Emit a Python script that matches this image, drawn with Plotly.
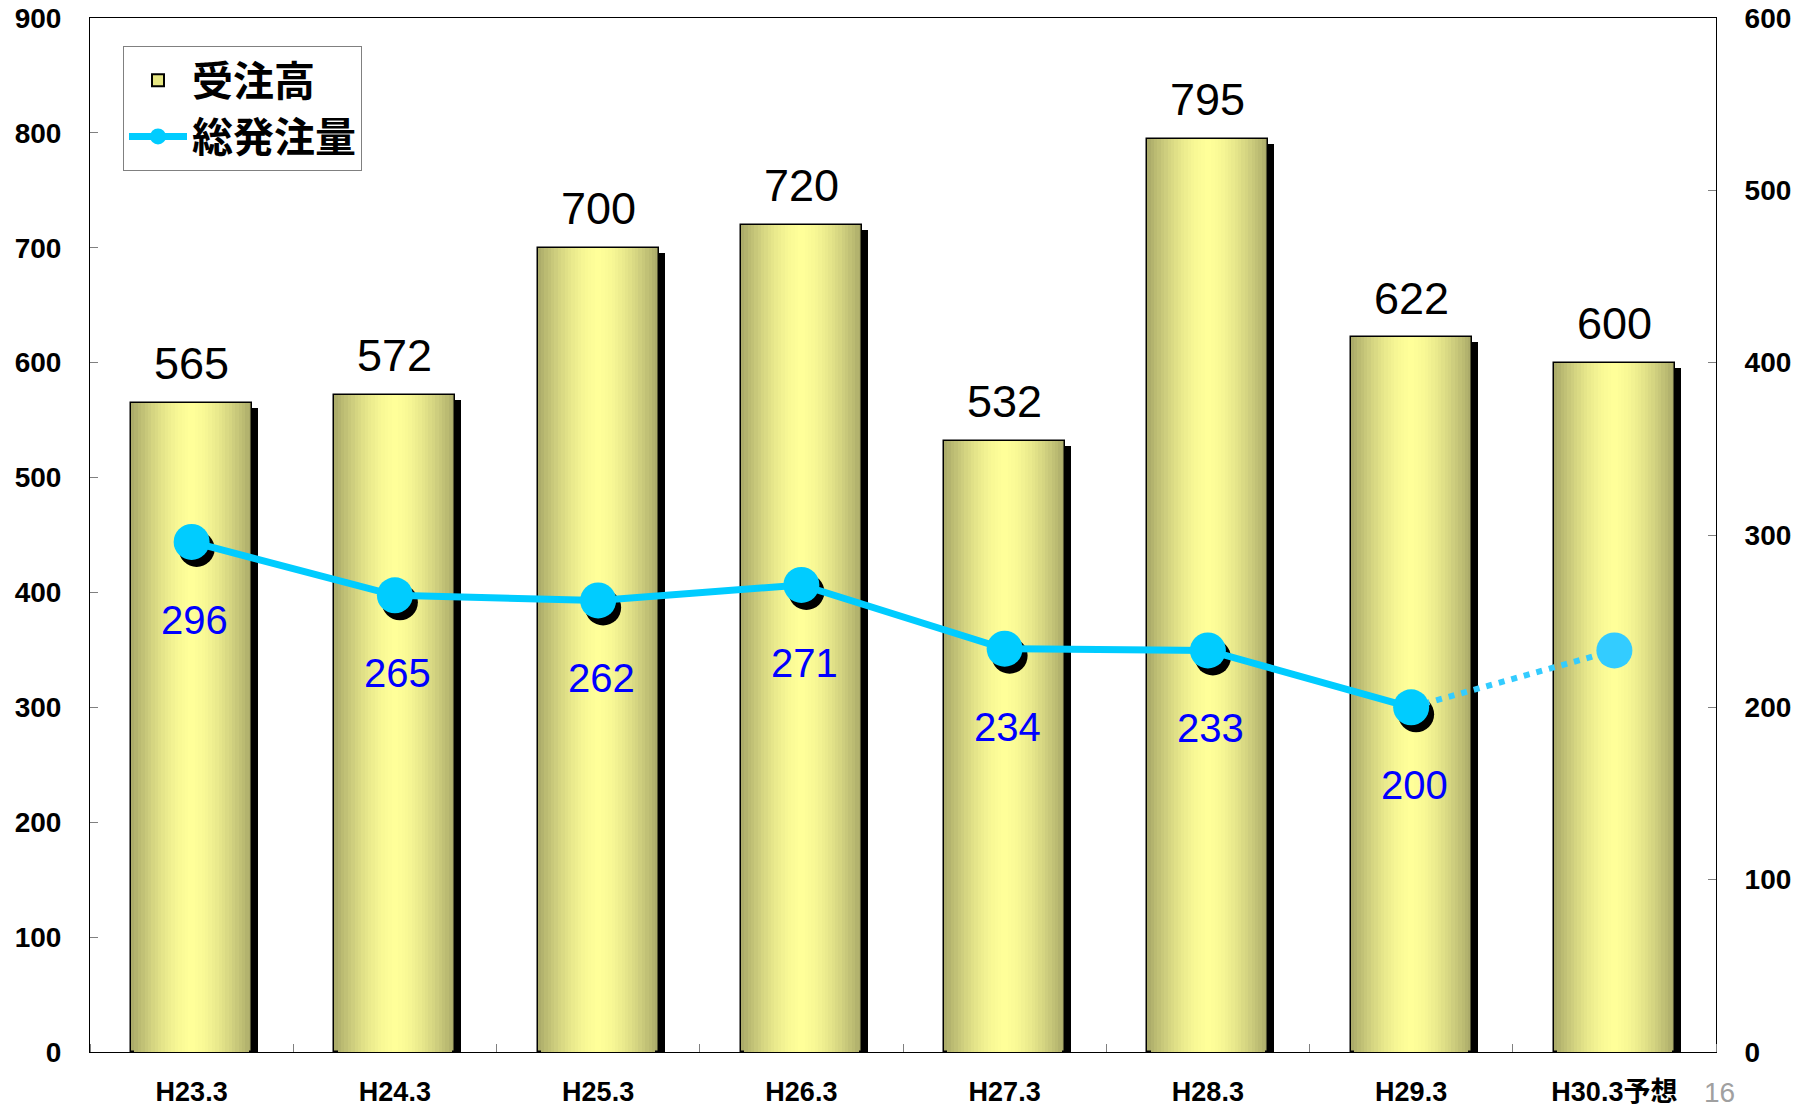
import plotly.graph_objects as go

# ---------------- data ----------------
categories = ["H23.3", "H24.3", "H25.3", "H26.3", "H27.3", "H28.3", "H29.3", "H30.3予想"]
orders = [565, 572, 700, 720, 532, 795, 622, 600]          # 受注高 (left axis)
volume = [296, 265, 262, 271, 234, 233, 200]               # 総発注量 actual (right axis)
volume_forecast = 233                                      # 総発注量 forecast (unlabelled)
left_ticks = [0, 100, 200, 300, 400, 500, 600, 700, 800, 900]
right_ticks = [0, 100, 200, 300, 400, 500, 600]

# ---------------- layout constants ----------------
W_PX, H_PX = 1807, 1107
ML, MR, MT, MB = 90, 91, 18, 55
plot_w = W_PX - ML - MR
plot_h = H_PX - MT - MB
n = len(categories)
xs = list(range(n))
px_x = plot_w / n                 # pixels per category unit
px_yl = plot_h / 900.0            # pixels per left-axis unit
px_yr = plot_h / 600.0            # pixels per right-axis unit

BAR_W = 121 / px_x
FONT_BOLD = "Liberation Sans, Arial, Noto Sans CJK JP"
FONT_CJK = "Noto Sans CJK JP, Liberation Sans"

fig = go.Figure()

# bar shadows
fig.add_trace(go.Bar(
    x=[i + 6 / px_x for i in xs], y=orders, base=-5 / px_yl, width=BAR_W,
    marker=dict(color="black", line=dict(width=0)), showlegend=False, hoverinfo="skip"))

# gradient bars: overlapping layers of decreasing width
edge = (168, 168, 104)
center = (255, 255, 153)
N = 18
for k in range(N):
    t = 1 - (k + 0.5) / N
    f = t ** 1.6
    col = tuple(round(center[j] - (center[j] - edge[j]) * f) for j in range(3))
    fig.add_trace(go.Bar(
        x=xs, y=orders, width=BAR_W * (1 - k / N),
        marker=dict(color="rgb(%d,%d,%d)" % col,
                    line=dict(color="black", width=1.5 if k == 0 else 0)),
        showlegend=False, hoverinfo="skip"))

# legend entry for bars
fig.add_trace(go.Bar(x=[None], y=[None], name="受注高",
                     marker=dict(color="rgb(230,230,130)", line=dict(color="black", width=2))))

# marker shadows (actual points)
fig.add_trace(go.Scatter(
    x=[i + 5 / px_x for i in xs[:len(volume)]], y=[v - 7 / px_yr for v in volume],
    yaxis="y2", mode="markers", marker=dict(size=36, color="black"),
    showlegend=False, hoverinfo="skip"))

# forecast dotted segment
fig.add_trace(go.Scatter(
    x=[xs[len(volume) - 1], xs[-1]], y=[volume[-1], volume_forecast], yaxis="y2",
    mode="lines", line=dict(color="#33ccff", width=6, dash="6px,7px"),
    showlegend=False, hoverinfo="skip"))

# actual line
fig.add_trace(go.Scatter(
    x=xs[:len(volume)], y=volume, yaxis="y2", mode="lines+markers", name="総発注量",
    line=dict(color="#00ccff", width=7), marker=dict(size=36, color="#00ccff")))

# forecast marker
fig.add_trace(go.Scatter(
    x=[xs[-1]], y=[volume_forecast], yaxis="y2", mode="markers",
    marker=dict(size=36, color="#33ccff"), showlegend=False, hoverinfo="skip"))

annotations = []
for i, v in zip(xs, orders):
    annotations.append(dict(x=i, y=v, xref="x", yref="y", text=str(v), showarrow=False,
                            yanchor="middle", yshift=39,
                            font=dict(family="Liberation Sans, Arial", size=45, color="black")))
for i, v in zip(xs, volume):
    annotations.append(dict(x=i, y=v, xref="x", yref="y2", text=str(v), showarrow=False,
                            yanchor="middle", yshift=-78, xshift=3,
                            font=dict(family="Liberation Sans, Arial", size=40, color="#0000ff")))
# page number (pixel position converted to paper coordinates)
annotations.append(dict(x=(1719 - ML) / plot_w, y=(H_PX - MB - 1092) / plot_h,
                        xref="paper", yref="paper", text="16", showarrow=False,
                        xanchor="center", yanchor="middle",
                        font=dict(family="Liberation Sans, Arial", size=28, color="#a0a0a0")))

fig.update_layout(
    width=W_PX, height=H_PX,
    margin=dict(l=ML, r=MR, t=MT, b=MB, autoexpand=False),
    paper_bgcolor="white", plot_bgcolor="white",
    barmode="overlay", bargap=0,
    xaxis=dict(range=[-0.5, n - 0.5], tickvals=xs, ticktext=categories,
               showgrid=False, zeroline=False, showline=True, linecolor="black", linewidth=1,
               mirror=True, ticks="", ticklabelstandoff=16,
               tickfont=dict(family=FONT_BOLD, size=27, color="black", weight="bold"),
               minor=dict(ticks="inside", tick0=0.5, dtick=1, ticklen=8, tickcolor="#808080",
                          showgrid=False)),
    yaxis=dict(range=[0, 900], tickvals=left_ticks, showgrid=False, zeroline=False,
               showline=True, linecolor="black", linewidth=1,
               ticks="inside", ticklen=8, tickcolor="#808080", ticklabelstandoff=22,
               tickfont=dict(family=FONT_BOLD, size=28, color="black", weight="bold")),
    yaxis2=dict(range=[0, 600], tickvals=right_ticks, overlaying="y", side="right",
                showgrid=False, zeroline=False, showline=True, linecolor="black", linewidth=1,
                ticks="inside", ticklen=8, tickcolor="#808080", ticklabelstandoff=22,
                tickfont=dict(family=FONT_BOLD, size=28, color="black", weight="bold")),
    legend=dict(x=(123 - ML) / plot_w, y=(H_PX - MB - 46) / plot_h, xanchor="left", yanchor="top",
                bgcolor="white", bordercolor="#808080", borderwidth=1,
                font=dict(family=FONT_CJK, size=41, color="black", weight="bold"),
                itemwidth=58, tracegroupgap=0),
    annotations=annotations,
    showlegend=True,
)

fig.write_html("out.html", config={"displayModeBar": False},
               post_script="document.body.style.margin='0';document.body.style.padding='0';"
                           "document.body.style.overflow='hidden';")
